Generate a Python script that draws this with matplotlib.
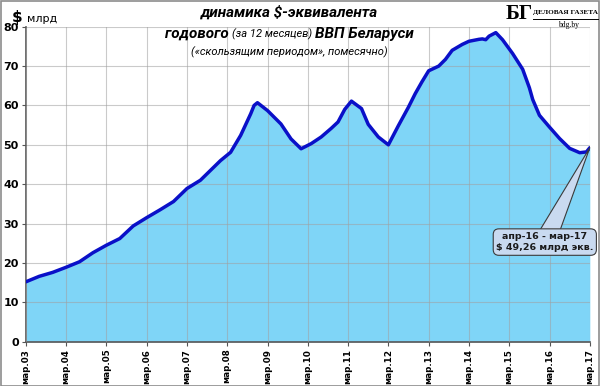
import matplotlib
matplotlib.use("Agg")
import matplotlib.pyplot as plt
from matplotlib.patches import Rectangle

# month offsets from March 2003 and rolling 12-month GDP, $ bn
month_idx = [0, 4, 8, 12, 16, 20, 24, 28, 32, 36, 40, 44, 48, 52, 55, 58, 61, 64, 67, 68,
             69, 72, 76, 79, 82, 85, 88, 91, 93, 95, 97, 100, 102, 105, 108, 111, 114, 116,
             118, 120, 123, 125, 127, 130, 132, 135, 136, 137, 138, 140, 142, 145, 148, 150,
             151, 153, 156, 159, 162, 165, 167, 168]
gdp_bn = [15.2, 16.6, 17.6, 18.9, 20.3, 22.6, 24.5, 26.2, 29.4, 31.5, 33.5, 35.6, 38.9, 41.0,
          43.5, 46.0, 48.1, 52.4, 57.9, 60.0, 60.7, 58.7, 55.3, 51.5, 49.0, 50.3, 52.0, 54.2,
          55.8, 59.0, 61.1, 59.2, 55.2, 52.0, 50.0, 54.9, 59.6, 63.0, 66.0, 68.8, 70.0, 71.7,
          74.0, 75.5, 76.3, 76.8, 76.9, 76.7, 77.6, 78.5, 76.7, 73.2, 69.2, 64.5, 61.5, 57.5,
          54.5, 51.6, 49.1, 48.0, 48.2, 49.26]
years = list(range(2003, 2018))
tick_labels = ["мар.%02d" % (y % 100) for y in years]
callout_lines = ["апр-16 - мар-17", "$ 49,26 млрд экв."]

fig = plt.figure(figsize=(6.0, 3.86), dpi=100)
ax = fig.add_axes([0.043, 0.1148, 0.940, 0.816])

ax.fill_between(month_idx, gdp_bn, 0, color="#7fd5f7", lw=0, zorder=1)
ax.plot(month_idx, gdp_bn, color="#0a10c8", lw=2.5, zorder=3,
        solid_capstyle="round", solid_joinstyle="round")

ax.set_xlim(0, 168)
ax.set_ylim(0, 80)
ax.set_xticks([12 * i for i in range(len(years))])
ax.set_xticklabels(tick_labels, rotation=90, fontsize=6.3, fontweight="bold")
ax.set_yticks(range(0, 81, 10))
ax.set_yticklabels([str(v) for v in range(0, 81, 10)], fontsize=8, fontweight="bold")
ax.tick_params(axis="both", length=3, width=0.8, color="#555555", pad=2)
ax.grid(True, color="#a0a0a0", lw=0.8, alpha=0.55, zorder=2)
ax.set_axisbelow(False)
for side in ("top", "right"):
    ax.spines[side].set_visible(False)
for side in ("left", "bottom"):
    ax.spines[side].set_color("#555555")
    ax.spines[side].set_linewidth(1.2)

# callout for the last value
ax.annotate("\n".join(callout_lines), xy=(month_idx[-1], gdp_bn[-1]), xytext=(154.6, 25.3),
            ha="center", va="center", fontsize=6.8, fontweight="bold", color="#1a1a1a",
            linespacing=1.4, zorder=5,
            bbox=dict(boxstyle="round,pad=0.3,rounding_size=0.6", fc="#c9daf0", ec="#3a3a3a", lw=0.8),
            arrowprops=dict(arrowstyle="wedge,tail_width=2.2,shrink_factor=0.5", fc="#c9daf0",
                            ec="#3a3a3a", lw=0.8, shrinkA=0, shrinkB=0, patchA=None))

# titles
ff = ["Roboto", "DejaVu Sans"]
fig.text(0.482, 0.968, "динамика $-эквивалента", ha="center", va="center",
         fontsize=11, fontweight="bold", style="italic", family=ff)
pieces = [("годового ", 11, "bold"), ("(за 12 месяцев) ", 8, "normal"), ("ВВП Беларуси", 11, "bold")]
texts = [fig.text(0, 0.902, s, ha="left", va="baseline", fontsize=fs, fontweight=fw,
                  style="italic", family=ff) for s, fs, fw in pieces]
fig.canvas.draw()
r = fig.canvas.get_renderer()
widths = [t.get_window_extent(r).width / fig.bbox.width for t in texts]
x = 0.482 - sum(widths) / 2
for t, w in zip(texts, widths):
    t.set_x(x)
    x += w
fig.text(0.482, 0.865, "(«скользящим периодом», помесячно)", ha="center", va="center",
         fontsize=8, style="italic", family=ff)

# unit label
fig.text(0.02, 0.955, "$", ha="left", va="center", fontsize=11, fontweight="bold")
fig.text(0.045, 0.952, "млрд", ha="left", va="center", fontsize=8)

# logo
fig.text(0.866, 0.963, "БГ", ha="center", va="center", fontsize=15, fontweight="bold",
         family="Liberation Serif")
fig.text(0.943, 0.968, "ДЕЛОВАЯ ГАЗЕТА", ha="center", va="center", fontsize=5.2,
         fontweight="bold", family="Liberation Serif")
fig.add_artist(plt.Line2D([0.889, 0.996], [0.951, 0.951], color="black", lw=0.7))
fig.text(0.948, 0.934, "bdg.by", ha="center", va="center", fontsize=5.5,
         family="Liberation Serif")

fig.add_artist(Rectangle((0.001, 0.001), 0.997, 0.996, transform=fig.transFigure,
                         fill=False, ec="#8c8c8c", lw=1.2))

fig.savefig("out.png", dpi=100)
